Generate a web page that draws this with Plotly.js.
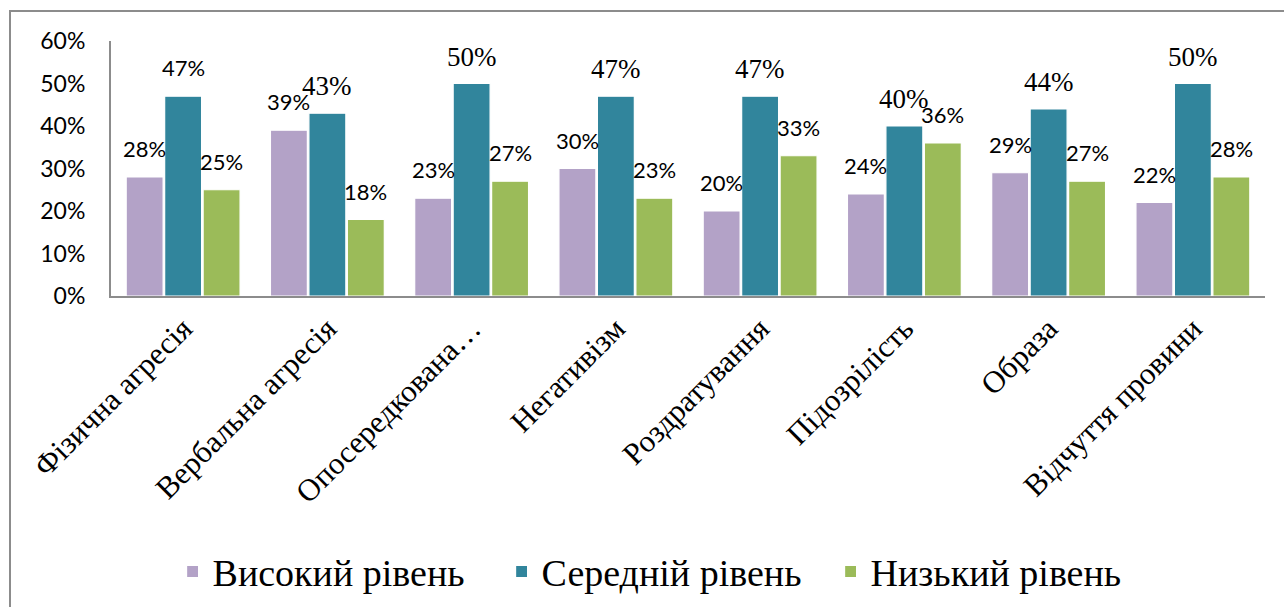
<!DOCTYPE html>
<html>
<head>
<meta charset="utf-8">
<script src="https://cdn.plot.ly/plotly-3.0.1.min.js"></script>
<style>
  html, body { margin: 0; padding: 0; background: #fff; }
  #frame { position: absolute; left: 9px; top: 10px; width: 1290px; height: 610px;
           border-top: 2px solid #8c8c8c; border-left: 2px solid #8c8c8c; pointer-events: none; z-index: 5; }
  #chart { position: absolute; left: 0; top: 0; width: 1284px; height: 607px; }
</style>
</head>
<body>
<div id="chart"></div>
<div id="frame"></div>
<script>
const categories = ["Фізична агресія", "Вербальна агресія", "Опосередкована…", "Негативізм",
                    "Роздратування", "Підозрілість", "Образа", "Відчуття провини"];
const seriesNames = ["Високий рівень", "Середній рівень", "Низький рівень"];
const high   = [0.28, 0.39, 0.23, 0.30, 0.20, 0.24, 0.29, 0.22];
const medium = [0.47, 0.43, 0.50, 0.47, 0.47, 0.40, 0.44, 0.50];
const low    = [0.25, 0.18, 0.27, 0.23, 0.33, 0.36, 0.27, 0.28];
// label font style per point: true = serif, false = sans
const highSerif   = [false, false, false, false, false, false, false, false];
const mediumSerif = [false, true, true, true, true, true, true, true];
const lowSerif    = [false, false, false, false, false, false, false, false];

const colors = ["#B3A2C7", "#31859C", "#9BBB59"];
const values = [high, medium, low];
const serifFlags = [highSerif, mediumSerif, lowSerif];

const SANS = "Lato";
const SERIF = "Liberation Serif";
const bargap = 0.2;

const traces = values.map((v, k) => ({
  type: "bar",
  name: seriesNames[k],
  x: categories,
  y: v,
  marker: { color: colors[k], line: { color: "#ffffff", width: 1.2 } },
  hoverinfo: "none"
}));

const slot = (1 - bargap) / 3;
const annotations = [];
values.forEach((v, k) => {
  v.forEach((val, i) => {
    const serif = serifFlags[k][i];
    annotations.push({
      xref: "x", yref: "y",
      x: i + (k - 1) * slot,
      y: val,
      text: Math.round(val * 100) + "%",
      showarrow: false,
      yanchor: "bottom",
      xanchor: "center",
      yshift: serif ? 10 : 13,
      font: serif ? { family: SERIF, size: 27, color: "#000" } : { family: SANS, size: 22, color: "#000" }
    });
  });
});

const layout = {
  width: 1284, height: 607,
  margin: { l: 111, r: 19, t: 41, b: 311, pad: 0 },
  paper_bgcolor: "#ffffff",
  plot_bgcolor: "#ffffff",
  barmode: "group",
  bargap: bargap,
  bargroupgap: 0.04,
  showlegend: true,
  legend: {
    orientation: "h", xref: "paper", x: 0.481, xanchor: "center",
    yref: "container", y: 0.058, yanchor: "middle",
    font: { family: SERIF, size: 38, color: "#000" },
    entrywidth: 284, itemwidth: 30
  },
  xaxis: {
    type: "category", automargin: false,
    showline: true, linecolor: "#8c8c8c", linewidth: 2,
    ticks: "", tickangle: -45,
    tickfont: { family: SERIF, size: 31, color: "#000" },
    showgrid: false, zeroline: false
  },
  yaxis: {
    range: [0, 0.6], dtick: 0.1, tickformat: ".0%", automargin: false,
    showline: true, linecolor: "#8c8c8c", linewidth: 2,
    ticks: "", ticklabelstandoff: 19,
    tickfont: { family: SANS, size: 23, color: "#000" },
    showgrid: false, zeroline: false
  },
  annotations: annotations
};

Plotly.newPlot("chart", traces, layout, { displayModeBar: false, staticPlot: true });
</script>
</body>
</html>
